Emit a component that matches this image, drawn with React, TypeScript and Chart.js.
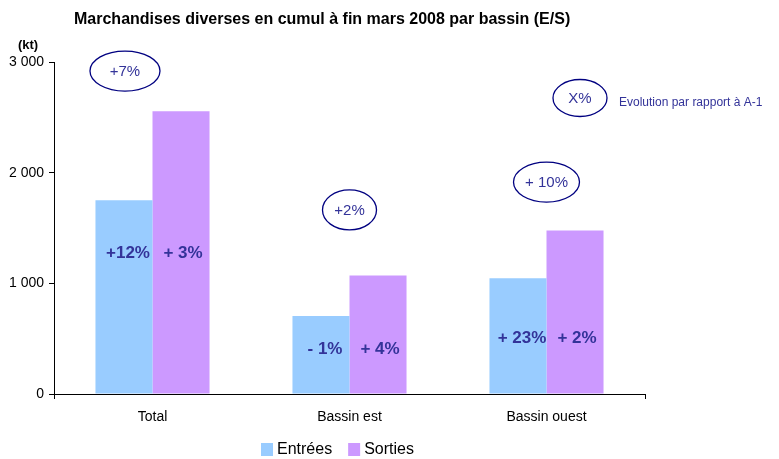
import React, { useEffect, useRef } from "react";
import { Chart, registerables } from "chart.js";

Chart.register(...registerables);

const categories = ["Total", "Bassin est", "Bassin ouest"];
const entrees = [1750, 705, 1045];
const sorties = [2555, 1070, 1478];
const entreesLabels = ["+12%", "- 1%", "+ 23%"];
const sortiesLabels = ["+ 3%", "+ 4%", "+ 2%"];
// value (kt) at which the in-bar growth labels sit
const innerLabelLevel = [1275, 400, 505];
// overall growth per basin, shown in ellipses, and their vertical anchor (kt)
const totalGrowth = ["+7%", "+2%", "+ 10%"];
const totalGrowthLevel = [2918, 1663, 1915];
const yTicks = [0, 1000, 2000, 3000];

const TITLE = "Marchandises diverses en cumul à fin mars 2008 par bassin (E/S)";
const NAVY = "#000080";
const LABEL = "#333399";
const BLUE = "#99CCFF";
const PURPLE = "#CC99FF";

const fmt = (v: number) => String(v).replace(/\B(?=(\d{3})+(?!\d))/g, " ");

const annotations = {
  id: "annotations",
  afterDraw(chart: any) {
    const ctx = chart.ctx as CanvasRenderingContext2D;
    const y = chart.scales.y;
    const m0 = chart.getDatasetMeta(0);
    const m1 = chart.getDatasetMeta(1);
    const area = chart.chartArea;
    ctx.save();
    // x-axis end ticks
    ctx.strokeStyle = "#000";
    ctx.lineWidth = 1;
    ctx.beginPath();
    [area.left, area.right].forEach((px: number) => {
      const x = Math.round(px) + 0.5;
      ctx.moveTo(x, area.bottom);
      ctx.lineTo(x, area.bottom + 5);
    });
    ctx.stroke();

    // title
    ctx.fillStyle = "#000";
    ctx.font = "bold 16px 'Liberation Sans Narrow', 'Arial Narrow', sans-serif";
    ctx.textAlign = "left";
    ctx.textBaseline = "middle";
    ctx.fillText(TITLE, 74, 20);
    // unit
    ctx.font = "bold 13px 'Liberation Sans', Arial, sans-serif";
    ctx.textAlign = "center";
    ctx.fillText("(kt)", 28, 45);

    // in-bar labels
    ctx.font = "bold 17px 'Liberation Sans', Arial, sans-serif";
    ctx.fillStyle = LABEL;
    ctx.textAlign = "center";
    categories.forEach((_, i) => {
      const ly = y.getPixelForValue(innerLabelLevel[i]);
      ctx.fillText(entreesLabels[i], m0.data[i].x + 4, ly);
      ctx.fillText(sortiesLabels[i], m1.data[i].x + 2, ly);
    });

    // ellipses
    const ellipse = (cx: number, cy: number, rx: number, ry: number, text: string) => {
      ctx.beginPath();
      ctx.ellipse(cx, cy, rx, ry, 0, 0, Math.PI * 2);
      ctx.strokeStyle = NAVY;
      ctx.lineWidth = 1.3;
      ctx.stroke();
      ctx.fillStyle = LABEL;
      ctx.font = "15px 'Liberation Sans', Arial, sans-serif";
      ctx.textAlign = "center";
      ctx.fillText(text, cx, cy + 1);
    };
    const xs = chart.scales.x;
    categories.forEach((_, i) => {
      const cx = i === 0 ? m0.data[i].x + 1 : xs.getPixelForValue(i);
      const rx = i === 0 ? 35 : i === 1 ? 27 : 33;
      ellipse(cx, y.getPixelForValue(totalGrowthLevel[i]), rx, 20, totalGrowth[i]);
    });
    ellipse(580, 98, 27, 18.5, "X%");
    ctx.fillStyle = LABEL;
    ctx.font = "12px 'Liberation Sans', Arial, sans-serif";
    ctx.textAlign = "left";
    ctx.fillText("Evolution par rapport à A-1", 619, 103);

    // legend
    const items = [
      { c: BLUE, t: chart.data.datasets[0].label },
      { c: PURPLE, t: chart.data.datasets[1].label },
    ];
    ctx.font = "16px 'Liberation Sans', Arial, sans-serif";
    let lx = 261;
    items.forEach((it) => {
      ctx.fillStyle = it.c;
      ctx.fillRect(lx, 443, 12, 13);
      ctx.fillStyle = "#000";
      ctx.fillText(it.t, lx + 16, 450);
      lx += 16 + ctx.measureText(it.t).width + 16;
    });
    ctx.restore();
  },
};

export default function App() {
  const ref = useRef<HTMLCanvasElement>(null);
  useEffect(() => {
    document.body.style.margin = "0";
    const chart = new Chart(ref.current!, {
      type: "bar",
      data: {
        labels: categories,
        datasets: [
          { label: "Entrées", data: entrees, backgroundColor: BLUE, categoryPercentage: 0.579, barPercentage: 1 },
          { label: "Sorties", data: sorties, backgroundColor: PURPLE, categoryPercentage: 0.579, barPercentage: 1 },
        ],
      },
      options: {
        animation: false,
        responsive: false,
        layout: { padding: { top: 62, right: 134, bottom: 0, left: 0 } },
        plugins: { legend: { display: false }, title: { display: false }, tooltip: { enabled: false } },
        scales: {
          x: {
            afterFit: (s: any) => { s.height = 65; },
            border: { display: true, color: "#000", width: 1 },
            grid: { display: false, tickLength: 5 },
            ticks: { color: "#000", padding: 10, font: { family: "'Liberation Sans', Arial, sans-serif", size: 14 } },
          },
          y: {
            min: 0,
            max: 3000,
            afterFit: (s: any) => { s.width = 54; },
            afterBuildTicks: (s: any) => { s.ticks = yTicks.map((v) => ({ value: v })); },
            border: { display: true, color: "#000", width: 1 },
            grid: { drawOnChartArea: false, tickLength: 5, color: "#000" },
            ticks: {
              color: "#000",
              padding: 5,
              font: { family: "'Liberation Sans', Arial, sans-serif", size: 14 },
              callback: (v: any) => fmt(Number(v)),
            },
          },
        },
      },
      plugins: [annotations],
    });
    return () => chart.destroy();
  }, []);
  return <canvas ref={ref} width={779} height={459} style={{ display: "block" }} />;
}
